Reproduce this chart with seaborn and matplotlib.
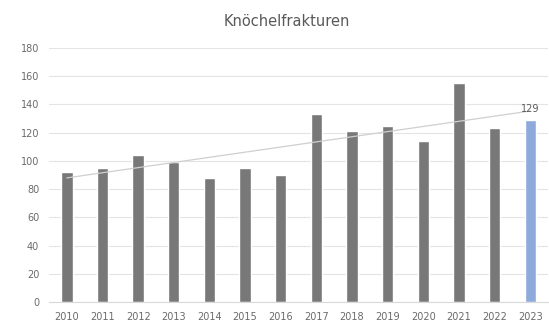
import matplotlib
matplotlib.use("Agg")
import matplotlib.pyplot as plt
import seaborn as sns
import pandas as pd
import numpy as np

years = ["2010", "2011", "2012", "2013", "2014", "2015", "2016",
         "2017", "2018", "2019", "2020", "2021", "2022", "2023"]
cases = [92, 95, 104, 99, 88, 95, 90, 133, 121, 125, 114, 155, 123, 129]
y_ticks = [0, 20, 40, 60, 80, 100, 120, 140, 160, 180]
title = "Knöchelfrakturen"

sns.set_theme(style="white")
plt.rcParams["font.family"] = ["DejaVu Sans"]

df = pd.DataFrame({"Jahr": years, "Fälle": cases})
df["pos"] = np.arange(len(df))
palette = ["#787878"] * (len(years) - 1) + ["#8eaadb"]

fig = plt.figure(figsize=(5.49, 3.25), dpi=100)
ax = fig.add_axes([0.0893, 0.0708, 0.909, 0.7815])

sns.barplot(data=df, x="Jahr", y="Fälle", hue="Jahr", palette=palette,
            legend=False, width=0.32, saturation=1, ax=ax, zorder=2)

# linear trend across all years
sns.regplot(data=df, x="pos", y="Fälle", scatter=False, ci=None, ax=ax,
            line_kws={"color": "#cfcfcf", "linewidth": 0.9, "zorder": 3})

# value label on the latest year
last = len(cases) - 1
ax.annotate(str(cases[last]), xy=(last, cases[last]), xytext=(0, 4),
            textcoords="offset points", ha="center", va="bottom",
            fontsize=7, color="#595959")

ax.set_xlim(-0.5, len(years) - 0.5)
ax.set_ylim(0, 180)
ax.set_yticks(y_ticks)
ax.set_xticks(range(len(years)))
ax.set_xticklabels(years)
ax.yaxis.grid(True, color="#e4e4e4", linewidth=0.8, zorder=0)
ax.set_axisbelow(True)
for s in ["top", "right", "left"]:
    ax.spines[s].set_visible(False)
ax.spines["bottom"].set_color("#d9d9d9")
ax.spines["bottom"].set_linewidth(0.8)
ax.tick_params(axis="both", length=0, labelsize=7, labelcolor="#6a6a6a", pad=7)
ax.set_xlabel("")
ax.set_ylabel("")

fig.text(0.523, 0.935, title, ha="center", va="center", fontsize=10.5, color="#595959")

fig.savefig("out.png", dpi=100)
